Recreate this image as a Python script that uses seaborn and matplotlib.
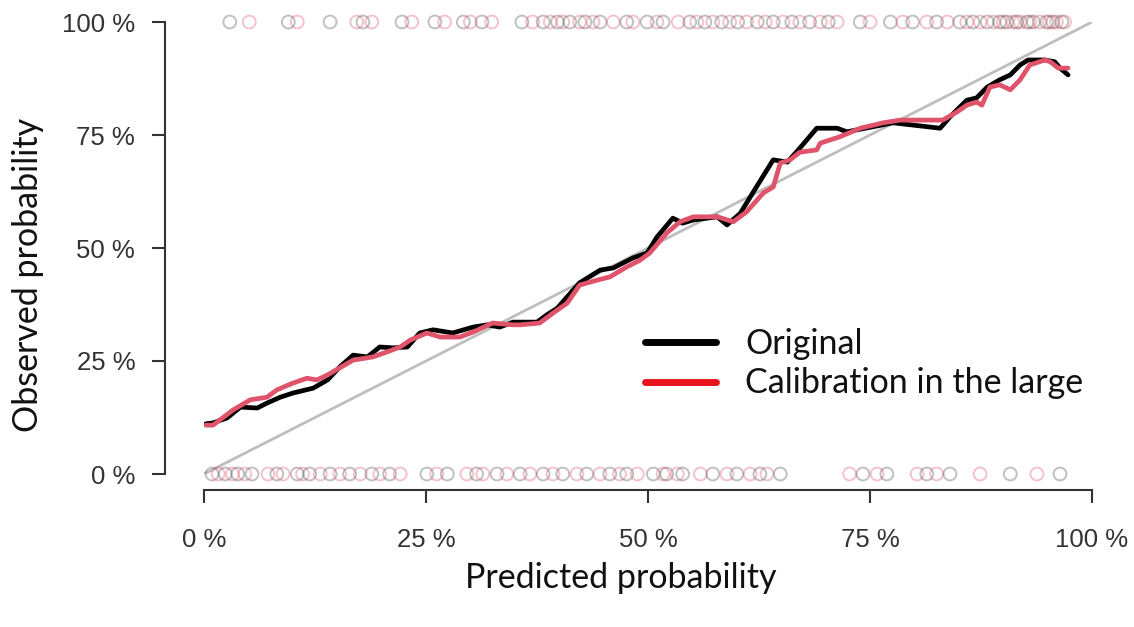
import matplotlib
matplotlib.use("Agg")
import matplotlib.pyplot as plt
from matplotlib.lines import Line2D
import numpy as np
import pandas as pd
import seaborn as sns


# calibration curves (percent)
orig_x = [0.2, 1.0, 2.6, 4.1, 6.0, 7.1, 8.6, 10.0, 12.3, 13.9, 15.3, 16.8, 18.4, 19.8,
          21.3, 22.9, 24.3, 25.8, 28.0, 30.3, 31.9, 33.3, 34.8, 37.5, 38.6, 39.8, 40.9,
          42.3, 44.6, 46.1, 48.3, 49.9, 51.0, 52.8, 53.9, 55.1, 57.8, 58.9, 60.4, 61.8,
          64.1, 65.7, 67.1, 69.0, 71.3, 72.4, 77.6, 82.9, 84.0, 85.9, 87.0, 88.2, 89.6,
          90.8, 91.9, 92.8, 94.7, 95.8, 96.4, 97.3]
orig_y = [11.1, 11.3, 12.4, 14.8, 14.6, 15.7, 17.0, 17.9, 19.0, 20.8, 23.7, 26.3, 25.9, 28.1,
          27.9, 28.1, 31.2, 31.9, 31.2, 32.5, 33.0, 32.5, 33.6, 33.6, 35.2, 36.7, 39.2,
          42.3, 45.1, 45.6, 47.8, 48.9, 52.4, 56.6, 55.5, 56.2, 56.9, 55.1, 57.7, 62.2,
          69.5, 69.0, 72.1, 76.5, 76.5, 75.7, 77.7, 76.5, 79.0, 82.7, 83.2, 85.6, 87.2,
          88.3, 90.5, 91.6, 91.6, 91.2, 89.8, 88.3]

citl_x = [0.2, 1.0, 3.3, 5.2, 7.1, 8.2, 10.0, 11.6, 12.7, 13.9, 15.3, 16.8, 19.0, 20.6,
          22.1, 23.2, 25.1, 26.6, 28.8, 30.3, 32.5, 34.8, 35.6, 37.8, 39.3, 40.9, 42.3,
          44.3, 45.7, 47.6, 49.1, 50.2, 52.1, 53.6, 55.1, 57.8, 59.6, 61.1, 63.0, 64.1,
          64.9, 66.0, 67.1, 69.0, 69.4, 71.6, 73.9, 76.5, 78.4, 83.2, 84.8, 85.9, 87.0,
          87.6, 88.5, 89.6, 90.8, 91.9, 93.0, 94.7, 95.3, 96.2, 97.3]
citl_y = [10.8, 10.8, 14.2, 16.4, 17.0, 18.6, 20.1, 21.2, 20.8, 21.9, 23.5, 25.2, 25.9, 27.0,
          28.1, 29.6, 31.2, 30.3, 30.3, 31.4, 33.4, 33.0, 33.0, 33.4, 35.6, 37.8, 41.8,
          42.9, 43.6, 45.8, 47.3, 48.9, 53.3, 55.8, 56.9, 56.9, 55.8, 58.0, 62.2, 63.5,
          68.8, 69.5, 71.2, 71.7, 73.2, 74.6, 76.5, 77.7, 78.3, 78.3, 80.1, 81.6, 82.3,
          81.6, 85.6, 86.1, 85.0, 87.2, 90.5, 91.6, 91.2, 89.8, 89.8]

# observed outcomes (predicted percent of each event / non-event)
events_x = [2.9, 5.1, 9.5, 10.5, 14.2, 17.2, 17.9, 18.9, 22.3, 23.4, 26.0, 27.1, 29.2, 30.0,
            31.3, 32.4, 35.8, 37.0, 38.2, 39.0, 39.8, 40.4, 41.2, 42.3, 42.9, 43.8, 44.6,
            46.1, 47.6, 48.3, 49.9, 51.0, 51.7, 53.4, 54.7, 55.5, 56.4, 57.3, 58.3, 59.2,
            60.1, 61.1, 62.3, 63.2, 64.1, 65.2, 66.2, 67.1, 68.2, 69.4, 70.3, 71.3, 73.9,
            75.0, 77.3, 78.7, 79.8, 81.4, 82.5, 83.7, 85.1, 85.9, 86.6, 87.4, 88.2, 88.9,
            89.6, 90.0, 90.4, 91.1, 91.5, 91.9, 92.7, 93.0, 93.4, 94.1, 94.9, 95.2, 95.6,
            96.0, 96.6, 96.9]
nonevents_x = [0.9, 1.6, 2.4, 3.2, 3.8, 4.6, 5.4, 7.2, 8.2, 8.9, 10.5, 11.1, 11.9, 13.1,
               14.2, 15.3, 16.4, 17.6, 18.9, 19.8, 20.9, 22.1, 25.1, 26.2, 27.4, 29.6,
               30.7, 31.4, 33.0, 34.1, 35.6, 36.7, 38.2, 39.3, 40.4, 42.0, 43.1, 44.6,
               45.7, 46.8, 47.6, 48.8, 50.6, 51.7, 52.1, 53.3, 53.9, 55.9, 57.3, 58.9,
               60.0, 61.5, 62.6, 63.4, 64.9, 72.7, 74.2, 75.8, 76.9, 80.3, 81.4, 82.5,
               84.0, 87.4, 90.8, 93.8, 96.4]

diag = [0, 100]
ticks = [0, 25, 50, 75, 100]
tick_labels = ["0 %", "25 %", "50 %", "75 %", "100 %"]

GREY = "#4d4d4d"
PINK = "#DF536B"
AXC = "#333333"

sns.set_style("white")
plt.rcParams["font.family"] = ["Liberation Sans", "DejaVu Sans"]

fig = plt.figure(figsize=(11.34, 6.27), dpi=100)
W, H = 1134, 627
ax = fig.add_axes([204 / W, (H - 474) / H, 888 / W, 452 / H])

# diagonal reference
sns.lineplot(x=diag, y=diag, color="#BEBEBE", linewidth=2, ax=ax)

# outcome circles at 0 and 100 %
for xs, yv in [(events_x, 100), (nonevents_x, 0)]:
    df = pd.DataFrame({"x": xs, "y": [yv] * len(xs)})
    cols = [GREY if i % 2 == 0 else PINK for i in range(len(xs))]
    ax.scatter(df["x"], df["y"], s=85, facecolors="none", edgecolors=cols,
               linewidths=1.4, alpha=0.35, clip_on=False, zorder=3)

# calibration curves
sns.lineplot(x=orig_x, y=orig_y, sort=False, estimator=None, color="black",
             linewidth=3.4, ax=ax, zorder=4)
sns.lineplot(x=citl_x, y=citl_y, sort=False, estimator=None, color=PINK,
             linewidth=3.4, ax=ax, zorder=5)

ax.set_xlim(0, 100)
ax.set_ylim(0, 100)
ax.set_xticks(ticks)
ax.set_xticklabels(tick_labels)
ax.set_yticks(ticks)
ax.set_yticklabels(tick_labels)

for s in ["top", "right"]:
    ax.spines[s].set_visible(False)
ax.spines["left"].set_position(("outward", 28))
ax.spines["bottom"].set_position(("outward", 11.5))
for s in ["left", "bottom"]:
    ax.spines[s].set_bounds(0, 100)
    ax.spines[s].set_color(AXC)
    ax.spines[s].set_linewidth(1.5)
ax.tick_params(axis="both", length=9.5, width=1.5, color=AXC, labelcolor=AXC,
               labelsize=18.5, direction="out", bottom=True, left=True)
ax.tick_params(axis="x", pad=18)
ax.tick_params(axis="y", pad=12)
ax.set_xlabel("")
ax.set_ylabel("")

lab_font = dict(family=["Lato", "DejaVu Sans"], size=24.5, color="#111111")
fig.text(621 / W, 1 - 578 / H, "Predicted probability", ha="center", va="center", **lab_font)
fig.text(28 / W, 1 - 275 / H, "Observed probability", ha="center", va="center",
         rotation=90, **lab_font)

handles = [Line2D([], [], color="black", linewidth=5),
           Line2D([], [], color="#E8141C", linewidth=5)]
leg = fig.legend(handles, ["Original", "Calibration in the large"],
                 loc="upper left", bbox_to_anchor=(645 / W, 1 - 328 / H),
                 frameon=False, borderpad=0, borderaxespad=0, handlelength=2.1,
                 handletextpad=0.85, labelspacing=0.22,
                 prop={"family": ["Lato", "DejaVu Sans"], "size": 24.5})
for t in leg.get_texts():
    t.set_color("#111111")

fig.savefig("out.png", dpi=100)
